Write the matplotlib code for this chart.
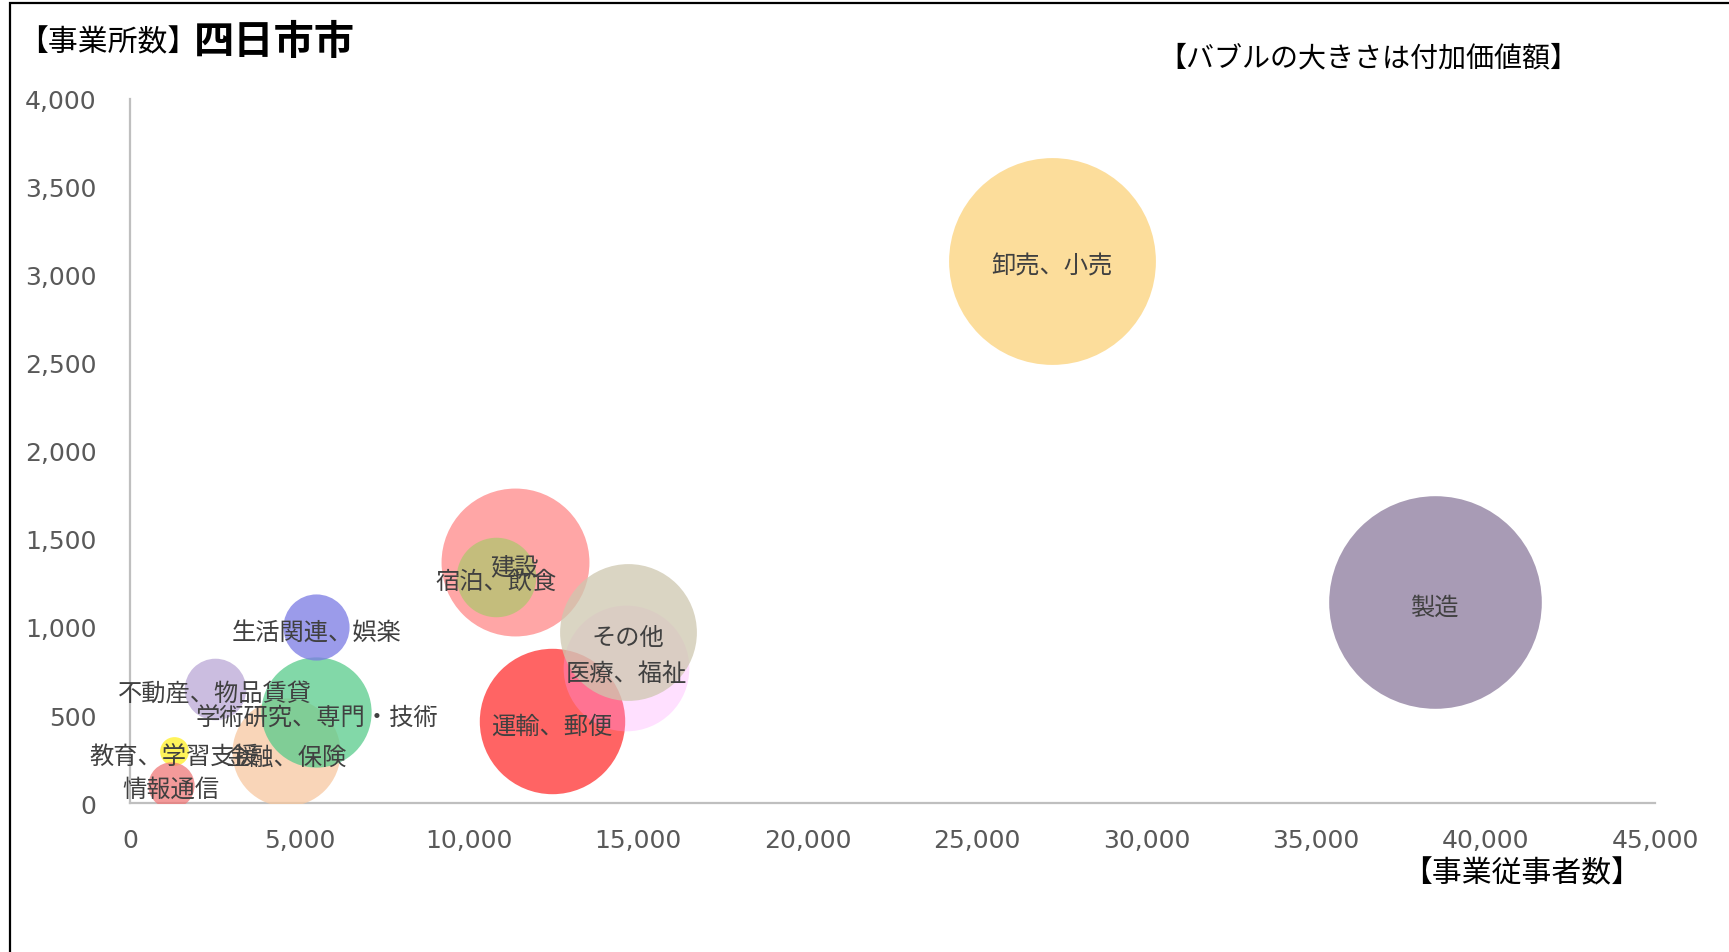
import matplotlib
matplotlib.use("Agg")
import matplotlib.pyplot as plt
import matplotlib.transforms as mtransforms
from matplotlib.patches import Rectangle
from matplotlib.ticker import FuncFormatter, MultipleLocator

plt.rcParams['font.family'] = ['Noto Sans CJK JP', 'DejaVu Sans']

# #############################################################################
# Data (四日市市, 産業大分類別)
industries = ['卸売、小売', '製造', '建設', '宿泊、飲食', '運輸、郵便', '医療、福祉',
              'その他', '金融、保険', '学術研究、専門・技術', '生活関連、娯楽',
              '不動産、物品賃貸', '教育、学習支援', '情報通信']
workers = [27200, 38500, 11350, 10800, 12450, 14650,
           14700, 4600, 5500, 5500, 2500, 1300, 1200]
offices = [3080, 1140, 1370, 1285, 465, 765,
           970, 290, 515, 1000, 650, 295, 105]
value_added = [880, 930, 450, 130, 435, 325,
               385, 240, 250, 90, 78, 17, 44]

colors = ['#FCD27A', '#8B7A9C', '#FF8888', '#B0C66E', '#FF3030', '#FF99FF',
          '#CEC7AF', '#F7C8A0', '#58CB8B', '#7A7AE4', '#BAA7D6', '#FFF023', '#EF7878']
alphas = [0.75, 0.75, 0.75, 0.75, 0.75, 0.3,
          0.75, 0.75, 0.75, 0.75, 0.75, 0.75, 0.75]

# #############################################################################
# Plot
fig = plt.figure(figsize=(17.29, 9.53), dpi=100)
ax = fig.add_axes([130 / 1729, 1 - 804 / 953, 1525 / 1729, 704 / 953])

sizes = [v * 25.2 for v in value_added]
for x, y, s, c, a in zip(workers, offices, sizes, colors, alphas):
    ax.scatter(x, y, s=s, color=c, alpha=a, linewidths=0, zorder=2)

# labels sit a touch below the bubble centre, like Excel does
shift = mtransforms.offset_copy(ax.transData, fig=fig, x=0, y=-3.2, units='points')
for name, x, y in zip(industries, workers, offices):
    ax.text(x, y, name, ha='center', va='center', fontsize=17.5,
            color='#404040', zorder=5, transform=shift)

ax.set_xlim(0, 45000)
ax.set_ylim(0, 4000)
ax.xaxis.set_major_locator(MultipleLocator(5000))
ax.yaxis.set_major_locator(MultipleLocator(500))
fmt = FuncFormatter(lambda v, p: '{:,.0f}'.format(v))
ax.xaxis.set_major_formatter(fmt)
ax.yaxis.set_major_formatter(fmt)
for lab in ax.get_xticklabels() + ax.get_yticklabels():
    lab.set_family('DejaVu Sans')
ax.tick_params(axis='both', length=0, labelsize=18, labelcolor='#595959')
ax.tick_params(axis='x', pad=18)
ax.tick_params(axis='y', pad=24)
for side in ['top', 'right']:
    ax.spines[side].set_visible(False)
for side in ['left', 'bottom']:
    ax.spines[side].set_color('#BFBFBF')
    ax.spines[side].set_linewidth(1.6)
    ax.spines[side].set_zorder(1)

# titles
fig.text(18 / 1729, 1 - 43 / 953, '【事業所数】', fontsize=21.5, va='center', ha='left')
fig.text(194 / 1729, 1 - 42 / 953, '四日市市', fontsize=29, fontweight='bold',
         va='center', ha='left')
fig.text(1158 / 1729, 1 - 58 / 953, '【バブルの大きさは付加価値額】', fontsize=20.2,
         va='center', ha='left')
fig.text(1402 / 1729, 1 - 874 / 953, '【事業従事者数】', fontsize=21.5,
         va='center', ha='left')

# outer frame
fig.patches.append(Rectangle((10 / 1729, -0.1), 1.2, 1.1 - 4 / 953,
                             transform=fig.transFigure, fill=False,
                             edgecolor='black', linewidth=1.6))

fig.savefig('out.png', dpi=100)
